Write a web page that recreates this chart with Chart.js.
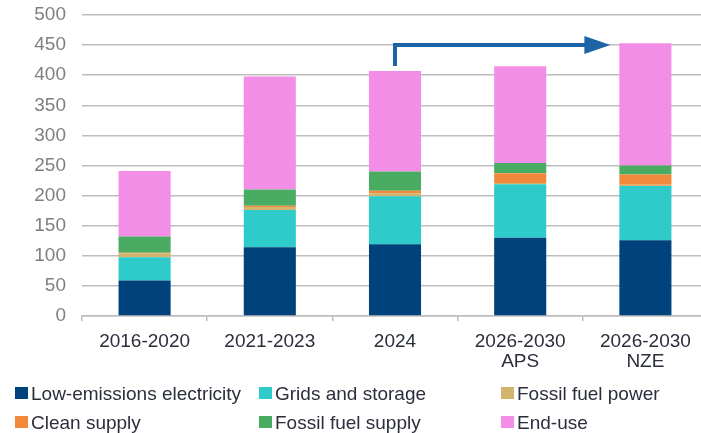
<!DOCTYPE html>
<html>
<head>
<meta charset="utf-8">
<script src="https://cdn.jsdelivr.net/npm/chart.js@4/dist/chart.umd.min.js"></script>
<style>
  html, body { margin: 0; padding: 0; background: #ffffff; overflow: hidden; }
  #wrap { position: relative; width: 708px; height: 433px; }
  #chart { position: absolute; left: 0; top: 0; }
  .lg { position: absolute; display: flex; align-items: center; white-space: nowrap;
        font-family: "Liberation Sans", Arial, sans-serif; font-size: 19px; color: #2b2f3c; line-height: 1; }
  .lg i { display: inline-block; width: 13px; height: 12px; margin-right: 3px; }
</style>
</head>
<body>
<div id="wrap">
  <canvas id="chart" width="708" height="433"></canvas>
  <div id="legend"></div>
</div>
<script>
// Investment by period and scenario (USD billion)
const categories = [['2016-2020'], ['2021-2023'], ['2024'], ['2026-2030', 'APS'], ['2026-2030', 'NZE']];

const lowEmissionsElectricity = [59, 114, 119, 130, 126];
const gridsAndStorage         = [38.5, 62, 80, 89, 90];
const fossilFuelPower         = [6.5, 5, 5, 2, 2];
const cleanSupply             = [1, 2, 4, 16, 17];
const fossilFuelSupply        = [27, 27, 32, 17, 15];
const endUse                  = [109, 188, 167, 161, 203];

const yTicks = [0, 50, 100, 150, 200, 250, 300, 350, 400, 450, 500];

// Arrow from the 2024 bar to the NZE bar at this level
const arrowLevel = 450;
const arrowFrom = 2;
const arrowTo = 4;

const seriesNames  = ['Low-emissions electricity', 'Grids and storage', 'Fossil fuel power',
                      'Clean supply', 'Fossil fuel supply', 'End-use'];
const seriesValues = [lowEmissionsElectricity, gridsAndStorage, fossilFuelPower,
                      cleanSupply, fossilFuelSupply, endUse];
const seriesColors = ['#00427c', '#2ecbca', '#d3b46c', '#f2883a', '#4aab63', '#f38ee6'];

const datasets = seriesNames.map((name, i) => ({
  label: name,
  data: seriesValues[i],
  backgroundColor: seriesColors[i],
  borderWidth: 0,
  barPercentage: 1,
  categoryPercentage: 0.416,
  stack: 'total'
}));

const arrowPlugin = {
  id: 'periodArrow',
  afterDatasetsDraw(chart) {
    const { ctx, scales: { x, y } } = chart;
    const totals = categories.map((_, i) => seriesValues.reduce((s, arr) => s + arr[i], 0));
    const x0 = x.getPixelForValue(arrowFrom);
    const yStart = y.getPixelForValue(totals[arrowFrom]) - 5;
    const yLine = y.getPixelForValue(arrowLevel);
    const bar = chart.getDatasetMeta(0).data[arrowTo];
    const tip = bar.x - bar.width / 2 - 9;
    const headLen = 26, headHalf = 9;
    ctx.save();
    ctx.strokeStyle = '#1c64a6';
    ctx.fillStyle = '#1c64a6';
    ctx.lineWidth = 4;
    ctx.lineJoin = 'miter';
    ctx.beginPath();
    ctx.moveTo(x0, yStart);
    ctx.lineTo(x0, yLine);
    ctx.lineTo(tip - headLen + 1, yLine);
    ctx.stroke();
    ctx.beginPath();
    ctx.moveTo(tip, yLine);
    ctx.lineTo(tip - headLen, yLine - headHalf);
    ctx.lineTo(tip - headLen, yLine + headHalf);
    ctx.closePath();
    ctx.fill();
    ctx.restore();
  }
};

const chart = new Chart(document.getElementById('chart'), {
  type: 'bar',
  data: { labels: categories, datasets },
  options: {
    responsive: false,
    animation: false,
    devicePixelRatio: 1,
    layout: { padding: { top: 15, left: 0, right: 0, bottom: 0 } },
    plugins: { legend: { display: false }, tooltip: { enabled: false } },
    scales: {
      x: {
        stacked: true,
        grid: { display: true, drawOnChartArea: false, drawTicks: true, tickLength: 5,
                color: '#bdbdbd', lineWidth: 1.5, offset: true },
        border: { display: true, color: '#bdbdbd', width: 1.5 },
        ticks: { color: '#2b2f3c', padding: 11, maxRotation: 0, autoSkip: false,
                 font: { family: 'Liberation Sans', size: 19, lineHeight: 1.05 } },
        afterFit(scale) { scale.height = 433 - 316; scale.paddingLeft = 0; scale.paddingRight = 0; }
      },
      y: {
        stacked: true,
        min: 0, max: 500,
        afterBuildTicks(scale) { scale.ticks = yTicks.map(v => ({ value: v })); },
        grid: { color: '#bdbdbd', lineWidth: 1.5, drawTicks: false },
        border: { display: false },
        ticks: { color: '#7f7f7f', padding: 16,
                 font: { family: 'Liberation Sans', size: 19 } },
        afterFit(scale) { scale.width = 82; scale.paddingTop = 0; scale.paddingBottom = 0; }
      }
    }
  },
  plugins: [arrowPlugin]
});

// Legend: two rows of three entries
const legendCols = [15, 259, 501];
const legendRows = [393, 422];
const legendEl = document.getElementById('legend');
datasets.forEach((ds, i) => {
  const item = document.createElement('div');
  item.className = 'lg';
  item.style.left = legendCols[i % 3] + 'px';
  item.style.top = (legendRows[Math.floor(i / 3)] - 10) + 'px';
  item.style.height = '20px';
  const sw = document.createElement('i');
  sw.style.background = ds.backgroundColor;
  item.appendChild(sw);
  item.appendChild(document.createTextNode(ds.label));
  legendEl.appendChild(item);
});
</script>
</body>
</html>
